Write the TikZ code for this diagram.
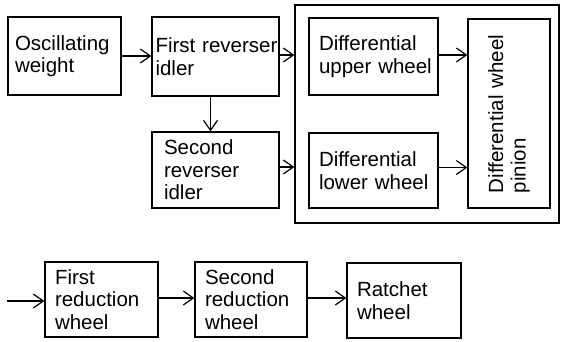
\documentclass[tikz,border=0pt]{standalone}
\usepackage{fontspec}
\setmainfont{Liberation Sans}
\usetikzlibrary{arrows.meta}
\hyphenpenalty=10000

\tikzset{
  blk/.style={draw, line width=1.3pt, rectangle, align=left, inner ysep=0pt,
    font=\fontsize{20.5}{22.5}\selectfont},
  % box of width #1, height #2 and left text margin #3 (all in pt)
  blkdim/.style n args={3}{minimum width=#1pt, minimum height=#2pt,
    inner xsep=#3pt, text width=#1pt-2*#3pt},
  arr/.style={line width=1.2pt, -{Straight Barb[length=10pt,width=14pt,line width=1.2pt]}}
}

\begin{document}
\begin{tikzpicture}[x=1pt,y=-1pt]
  \useasboundingbox (0,0) rectangle (561,341);

  % upper chain
  \node[blk, blkdim={113}{78}{7}]  (osc) at (64.5,56)   {Oscillating\\weight};
  \node[blk, blkdim={127}{79}{3.5}] (fri) at (215.5,56.5) {\mbox{First reverser}\\idler};
  \node[blk, blkdim={127}{76}{12}] (sri) at (215.5,170)  {Second\\reverser\\idler};

  % differential group
  \node[draw, line width=1.3pt, minimum width=264pt, minimum height=218pt] (grp) at (427,114) {};
  \node[blk, blkdim={129}{77}{10}] (dup) at (373.5,56.5) {Differential\\\mbox{upper wheel}};
  \node[blk, blkdim={129}{75}{10}] (dlo) at (373.5,170.5) {Differential\\\mbox{lower wheel}};
  \node[blk, blkdim={189}{82}{15}, rotate=90] (pin) at (509,113.5) {\mbox{Differential wheel}\\pinion};

  % reduction train
  \coordinate (in) at (7,301);
  \node[blk, blkdim={113}{75}{10}] (fr1) at (101.5,299.5) {First\\reduction\\wheel};
  \node[blk, blkdim={112}{75}{10}] (fr2) at (251,299.5)   {Second\\reduction\\wheel};
  \node[blk, blkdim={114}{75}{10}] (rat) at (404,300.5)   {Ratchet\\wheel};

  % connectors
  \draw[arr] (osc.east) -- (osc.east -| fri.west);
  \draw[arr] ([yshift=1.5pt]fri.east) -- ([yshift=1.5pt]fri.east -| grp.west);
  \draw[arr] ([yshift=3pt]sri.east) -- ([yshift=3pt]sri.east -| grp.west);
  \draw[arr] ([xshift=-5pt]fri.south) -- ([xshift=-5pt]fri.south |- sri.north);
  \draw[arr] ([yshift=1.5pt]dup.east) -- ([yshift=1.5pt]dup.east -| pin.north);
  \draw[arr] ([yshift=3pt]dlo.east) -- ([yshift=3pt]dlo.east -| pin.north);
  \draw[arr] (in) -- (in -| fr1.west);
  \draw[arr] ([yshift=1.5pt]fr1.east) -- ([yshift=1.5pt]fr1.east -| fr2.west);
  \draw[arr] ([yshift=1.5pt]fr2.east) -- ([yshift=1.5pt]fr2.east -| rat.west);
\end{tikzpicture}
\end{document}
